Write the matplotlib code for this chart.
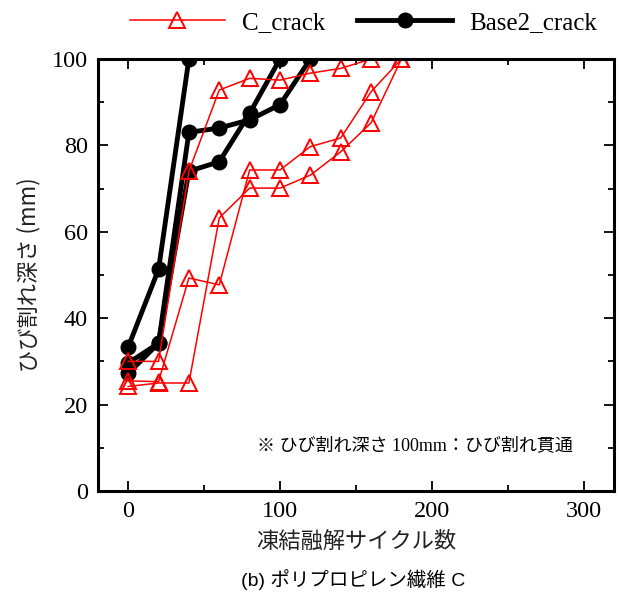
import matplotlib
matplotlib.use("Agg")
import matplotlib.pyplot as plt
from matplotlib.ticker import MultipleLocator

# freeze-thaw cycles
cycles_c = [0, 20, 40, 60, 80, 100, 120, 140, 160, 180]

# C_crack (three specimens)
c_crack_1 = [30.0, 30.0, 74.0, 92.8, 95.5, 95.1, 96.7, 97.8, 100.0]
c_crack_2 = [25.5, 25.3, 49.3, 47.7, 74.3, 74.3, 79.7, 81.7, 92.4, 100.0]
c_crack_3 = [24.2, 25.0, 25.0, 63.2, 70.1, 70.1, 73.1, 78.5, 85.2, 100.0]

# Base2_crack (three specimens)
base_cycles_1 = [0, 20, 40]
base_crack_1 = [33.3, 51.3, 100.0]
base_cycles_2 = [0, 20, 40, 60, 80, 100, 120]
base_crack_2 = [29.6, 34.2, 83.0, 84.0, 85.9, 89.4, 100.0]
base_cycles_3 = [0, 20, 40, 60, 80, 100]
base_crack_3 = [27.2, 34.2, 74.0, 76.2, 87.4, 100.0]

serif = ['Liberation Serif', 'Noto Sans CJK JP']
cjk = ['Noto Sans CJK JP', 'Liberation Serif']
sans = ['Liberation Sans', 'Noto Sans CJK JP']

plt.rcParams['font.family'] = serif

fig = plt.figure(figsize=(6.19, 6.01), dpi=100)
ax = fig.add_axes([0.158, 0.183, 0.834, 0.719])

red_style = dict(color='red', lw=1.1, marker='^', markersize=12,
                 markerfacecolor='none', markeredgecolor='red', markeredgewidth=1.4)
black_style = dict(color='black', lw=3.5, marker='o', markersize=10.5)

ax.plot(base_cycles_1, base_crack_1, label='Base2_crack', **black_style)
ax.plot(base_cycles_2, base_crack_2, **black_style)
ax.plot(base_cycles_3, base_crack_3, **black_style)

ax.plot(cycles_c[:9], c_crack_1, label='C_crack', **red_style)
ax.plot(cycles_c, c_crack_2, **red_style)
ax.plot(cycles_c, c_crack_3, **red_style)

ax.set_xlim(-20, 320)
ax.set_ylim(0, 100)
ax.xaxis.set_major_locator(MultipleLocator(100))
ax.xaxis.set_minor_locator(MultipleLocator(50))
ax.yaxis.set_major_locator(MultipleLocator(20))
ax.yaxis.set_minor_locator(MultipleLocator(10))
ax.tick_params(which='both', direction='in', top=True, right=True, width=1.3)
ax.tick_params(which='major', length=7, labelsize=17.5, pad=7)
ax.tick_params(which='minor', length=4)
for s in ax.spines.values():
    s.set_linewidth(2.2)

ax.set_xlabel('凍結融解サイクル数', family=cjk, fontsize=16, color='#222222', labelpad=6)
ax.set_ylabel('ひび割れ深さ (mm)', family=cjk, fontsize=16, color='#222222', labelpad=8)

ax.text(189, 10.5, '※ ひび割れ深さ 100mm：ひび割れ貫通', family=serif, fontsize=13,
        ha='center', va='center')

fig.text(0.57, 0.035, '(b) ポリプロピレン繊維 C', family=sans, fontsize=14,
         ha='center', va='center')

handles, labels = ax.get_legend_handles_labels()
order = [labels.index('C_crack'), labels.index('Base2_crack')]
fig.legend([handles[i] for i in order], [labels[i] for i in order],
           loc='center', bbox_to_anchor=(0.587, 0.962), ncol=2, frameon=False,
           fontsize=18, handlelength=3.8, columnspacing=1.3, handletextpad=0.68)

fig.savefig('out.png', dpi=100)
